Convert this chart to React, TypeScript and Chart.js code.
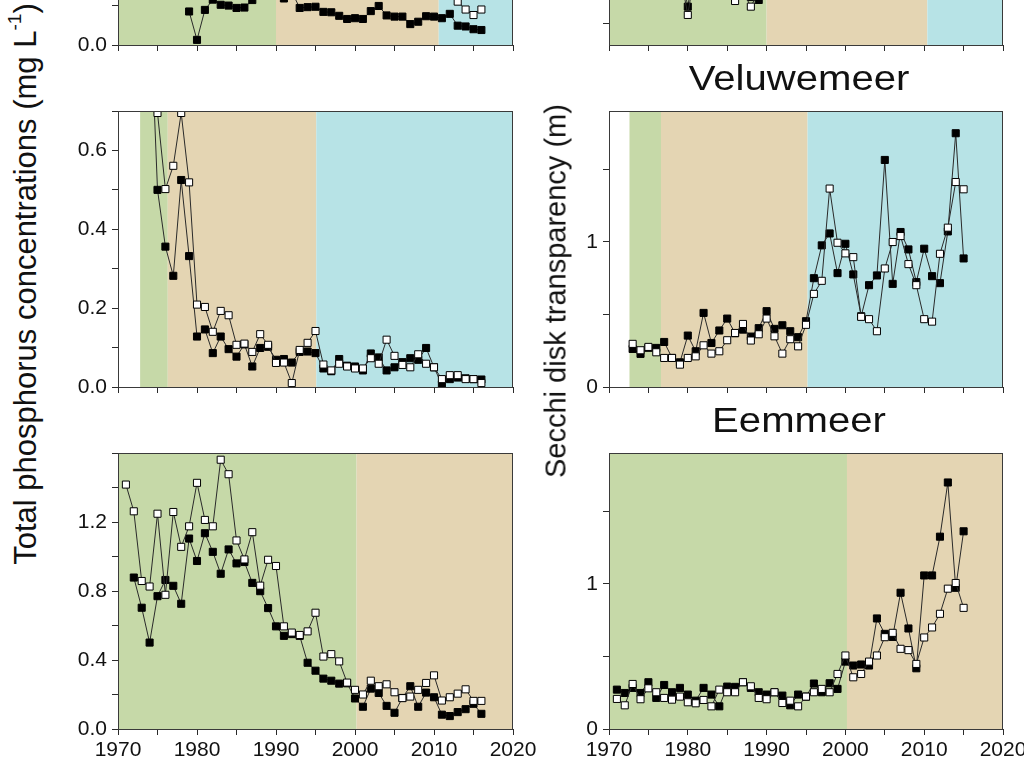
import React, { useEffect, useRef } from 'react';
import { Chart, registerables } from 'chart.js';

Chart.register(...registerables);

const FONT = '"Liberation Sans", Arial, Helvetica, sans-serif';
Chart.defaults.font.family = FONT;

const PHASE_COLORS: Record<string, string> = {
  green: '#c6d9a8',
  tan: '#e4d5b3',
  cyan: '#b7e3e6',
};

// ---------------- data ----------------
// Top row (only its lower edge is visible in the figure)
const topTpYears = [1979, 1980, 1981, 1982, 1983, 1984, 1985, 1986, 1987, 1988, 1989, 1990, 1991, 1992, 1993, 1994, 1995, 1996, 1997, 1998, 1999, 2000, 2001, 2002, 2003, 2004, 2005, 2006, 2007, 2008, 2009, 2010, 2011, 2012, 2013, 2014, 2015, 2016];
const topTpBlack = [0.085, 0.013, 0.089, 0.115, 0.102, 0.100, 0.094, 0.095, 0.114, 0.140, 0.150, 0.140, 0.118, 0.135, 0.094, 0.096, 0.097, 0.084, 0.083, 0.074, 0.066, 0.068, 0.066, 0.086, 0.099, 0.075, 0.072, 0.072, 0.053, 0.059, 0.073, 0.072, 0.068, 0.079, 0.049, 0.047, 0.040, 0.038];
const topTpWhiteYears = [2011, 2012, 2013, 2014, 2015, 2016];
const topTpWhite = [0.150, 0.130, 0.110, 0.090, 0.076, 0.090];
const topTpBreaks = [1970, 1990, 2010.6, 2020];
const topTpPhases = ['green', 'tan', 'cyan'];

const topSdYears = [1978, 1979, 1980, 1981, 1982, 1983, 1984, 1985, 1986, 1987, 1988, 1989, 1990, 1991];
const topSdBlack = [0.95, 0.90, 0.614, 0.95, 1.00, 0.90, 0.85, 0.90, 0.80, 0.75, 0.68, 0.66, 0.80, 0.90];
const topSdWhite = [0.90, 0.85, 0.557, 0.90, 0.95, 0.85, 0.80, 0.75, 0.653, 0.72, 0.614, 0.72, 0.85, 0.90];
const topSdBreaks = [1970, 1990, 2010.4, 2020];
const topSdPhases = ['green', 'tan', 'cyan'];

// Veluwemeer
const velTpYears = [1974, 1975, 1976, 1977, 1978, 1979, 1980, 1981, 1982, 1983, 1984, 1985, 1986, 1987, 1988, 1989, 1990, 1991, 1992, 1993, 1994, 1995, 1996, 1997, 1998, 1999, 2000, 2001, 2002, 2003, 2004, 2005, 2006, 2007, 2008, 2009, 2010, 2011, 2012, 2013, 2014, 2015, 2016];
const velTpBlack = [1.00, 0.500, 0.356, 0.282, 0.525, 0.332, 0.128, 0.146, 0.086, 0.128, 0.096, 0.077, 0.108, 0.052, 0.099, 0.102, 0.069, 0.071, 0.062, 0.089, 0.090, 0.086, 0.047, 0.040, 0.071, 0.054, 0.052, 0.042, 0.085, 0.075, 0.042, 0.050, 0.063, 0.073, 0.069, 0.099, 0.050, 0.006, 0.020, 0.024, 0.022, 0.020, 0.019];
const velTpWhite = [null, 0.695, 0.502, 0.561, 0.695, 0.519, 0.209, 0.203, 0.140, 0.193, 0.182, 0.107, 0.110, 0.089, 0.134, 0.107, 0.061, 0.062, 0.010, 0.094, 0.112, 0.142, 0.057, 0.042, 0.059, 0.052, 0.047, 0.047, 0.073, 0.059, 0.120, 0.079, 0.056, 0.050, 0.083, 0.059, 0.050, 0.020, 0.030, 0.030, 0.020, 0.020, 0.010];
const velTpBreaks = [1972.8, 1976.3, 1995.1, 2020];
const velTpPhases = ['green', 'tan', 'cyan'];

const velSdYears = [1973, 1974, 1975, 1976, 1977, 1978, 1979, 1980, 1981, 1982, 1983, 1984, 1985, 1986, 1987, 1988, 1989, 1990, 1991, 1992, 1993, 1994, 1995, 1996, 1997, 1998, 1999, 2000, 2001, 2002, 2003, 2004, 2005, 2006, 2007, 2008, 2009, 2010, 2011, 2012, 2013, 2014, 2015];
const velSdBlack = [0.262, 0.228, 0.270, 0.269, 0.310, 0.200, 0.170, 0.354, 0.246, 0.510, 0.303, 0.389, 0.471, 0.370, 0.395, 0.347, 0.405, 0.522, 0.400, 0.425, 0.384, 0.343, 0.453, 0.749, 0.975, 1.057, 0.784, 0.986, 0.775, 0.487, 0.701, 0.768, 1.563, 0.710, 1.067, 0.947, 0.722, 0.952, 0.763, 0.715, 1.071, 1.747, 0.885];
const velSdWhite = [0.297, 0.253, 0.276, 0.239, 0.200, 0.200, 0.154, 0.200, 0.211, 0.287, 0.230, 0.246, 0.322, 0.372, 0.434, 0.320, 0.363, 0.471, 0.349, 0.230, 0.329, 0.280, 0.428, 0.641, 0.731, 1.366, 0.993, 0.920, 0.894, 0.483, 0.467, 0.384, 0.816, 0.998, 1.039, 0.846, 0.701, 0.467, 0.450, 0.917, 1.097, 1.411, 1.361];
const velSdBreaks = [1972.6, 1976.6, 1995.2, 2020];
const velSdPhases = ['green', 'tan', 'cyan'];

// Eemmeer
const eemTpYears = [1971, 1972, 1973, 1974, 1975, 1976, 1977, 1978, 1979, 1980, 1981, 1982, 1983, 1984, 1985, 1986, 1987, 1988, 1989, 1990, 1991, 1992, 1993, 1994, 1995, 1996, 1997, 1998, 1999, 2000, 2001, 2002, 2003, 2004, 2005, 2006, 2007, 2008, 2009, 2010, 2011, 2012, 2013, 2014, 2015, 2016];
const eemTpBlack = [null, 0.878, 0.703, 0.501, 0.770, 0.864, 0.830, 0.726, 1.104, 0.974, 1.135, 1.027, 0.900, 1.041, 0.960, 0.968, 0.847, 0.799, 0.701, 0.595, 0.540, 0.550, 0.540, 0.384, 0.338, 0.292, 0.280, 0.263, 0.265, 0.177, 0.129, 0.234, 0.209, 0.134, 0.094, 0.180, 0.248, 0.129, 0.211, 0.184, 0.083, 0.075, 0.098, 0.115, 0.146, 0.088];
const eemTpWhite = [1.417, 1.262, 0.858, 0.826, 1.248, 0.778, 1.258, 1.056, 1.175, 1.427, 1.212, 1.175, 1.561, 1.477, 1.093, 0.983, 1.141, 0.831, 0.981, 0.945, 0.595, 0.559, 0.545, 0.566, 0.674, 0.420, 0.434, 0.392, 0.269, 0.227, 0.200, 0.280, 0.248, 0.259, 0.213, 0.179, 0.188, 0.227, 0.267, 0.311, 0.165, 0.184, 0.205, 0.230, 0.163, 0.163];
const eemTpBreaks = [1970, 2000.2, 2020];
const eemTpPhases = ['green', 'tan'];

const eemSdYears = [1971, 1972, 1973, 1974, 1975, 1976, 1977, 1978, 1979, 1980, 1981, 1982, 1983, 1984, 1985, 1986, 1987, 1988, 1989, 1990, 1991, 1992, 1993, 1994, 1995, 1996, 1997, 1998, 1999, 2000, 2001, 2002, 2003, 2004, 2005, 2006, 2007, 2008, 2009, 2010, 2011, 2012, 2013, 2014, 2015];
const eemSdBlack = [0.271, 0.248, 0.283, 0.248, 0.322, 0.214, 0.303, 0.253, 0.283, 0.237, 0.195, 0.283, 0.237, 0.156, 0.292, 0.290, 0.322, 0.283, 0.253, 0.237, 0.253, 0.230, 0.163, 0.237, 0.223, 0.313, 0.253, 0.315, 0.276, 0.464, 0.437, 0.444, 0.437, 0.761, 0.655, 0.634, 0.938, 0.692, 0.418, 1.057, 1.057, 1.324, 1.697, 0.972, 1.361];
const eemSdWhite = [0.207, 0.163, 0.310, 0.205, 0.280, 0.253, 0.214, 0.202, 0.223, 0.184, 0.177, 0.200, 0.156, 0.271, 0.253, 0.253, 0.322, 0.294, 0.214, 0.205, 0.253, 0.179, 0.195, 0.156, 0.223, 0.253, 0.276, 0.253, 0.379, 0.506, 0.356, 0.379, 0.464, 0.506, 0.632, 0.662, 0.552, 0.543, 0.448, 0.630, 0.699, 0.793, 0.966, 1.005, 0.834];
const eemSdBreaks = [1970, 2000.2, 2020];
const eemSdPhases = ['green', 'tan'];

// ---------------- layout ----------------
const LEFT_X = 118;
const RIGHT_X = 609;
const LEFT_W = 395;
const RIGHT_W = 394;
const ROW_TOPS = [-231, 111, 453];
const PLOT_H = 276;
const AXIS_W = 70;
const PAD_T = 30;
const PAD_R = 32;

const tpLabel = (step: number) => (v: number) => {
  const k = Math.round(v * 10);
  return k % step === 0 && k < 16 ? v.toFixed(1) : '';
};
const sdLabel = (v: number) => (Math.abs(v - Math.round(v)) < 1e-6 ? String(Math.round(v)) : '');

type PanelCfg = {
  left: number;
  top: number;
  width: number;
  bottomRow: boolean;
  yMin: number;
  yMax: number;
  yStep: number;
  yLabel: (v: number) => string;
  blackYears: number[];
  black: (number | null)[];
  whiteYears: number[];
  white: (number | null)[];
  breaks: number[];
  phases: string[];
};

const panels: PanelCfg[] = [
  { left: LEFT_X, top: ROW_TOPS[0], width: LEFT_W, bottomRow: false, yMin: 0, yMax: 0.7, yStep: 0.1, yLabel: tpLabel(2), blackYears: topTpYears, black: topTpBlack, whiteYears: topTpWhiteYears, white: topTpWhite, breaks: topTpBreaks, phases: topTpPhases },
  { left: RIGHT_X, top: ROW_TOPS[0], width: RIGHT_W, bottomRow: false, yMin: 0.35, yMax: 2.25, yStep: 0.5, yLabel: sdLabel, blackYears: topSdYears, black: topSdBlack, whiteYears: topSdYears, white: topSdWhite, breaks: topSdBreaks, phases: topSdPhases },
  { left: LEFT_X, top: ROW_TOPS[1], width: LEFT_W, bottomRow: false, yMin: 0, yMax: 0.7, yStep: 0.1, yLabel: tpLabel(2), blackYears: velTpYears, black: velTpBlack, whiteYears: velTpYears, white: velTpWhite, breaks: velTpBreaks, phases: velTpPhases },
  { left: RIGHT_X, top: ROW_TOPS[1], width: RIGHT_W, bottomRow: false, yMin: 0, yMax: 1.9, yStep: 0.5, yLabel: sdLabel, blackYears: velSdYears, black: velSdBlack, whiteYears: velSdYears, white: velSdWhite, breaks: velSdBreaks, phases: velSdPhases },
  { left: LEFT_X, top: ROW_TOPS[2], width: LEFT_W, bottomRow: true, yMin: 0, yMax: 1.6, yStep: 0.2, yLabel: tpLabel(4), blackYears: eemTpYears, black: eemTpBlack, whiteYears: eemTpYears, white: eemTpWhite, breaks: eemTpBreaks, phases: eemTpPhases },
  { left: RIGHT_X, top: ROW_TOPS[2], width: RIGHT_W, bottomRow: true, yMin: 0, yMax: 1.9, yStep: 0.5, yLabel: sdLabel, blackYears: eemSdYears, black: eemSdBlack, whiteYears: eemSdYears, white: eemSdWhite, breaks: eemSdBreaks, phases: eemSdPhases },
];

const bandsPlugin = {
  id: 'bands',
  beforeDatasetsDraw(chart: any, _args: any, opts: any) {
    const { ctx, chartArea } = chart;
    const x = chart.scales.x;
    const { top, bottom, left, right } = chartArea;
    ctx.save();
    const br: number[] = opts.breaks || [];
    const ph: string[] = opts.phases || [];
    for (let i = 0; i < ph.length; i++) {
      const x0 = Math.max(left, x.getPixelForValue(br[i]));
      const x1 = Math.min(right, x.getPixelForValue(br[i + 1]));
      ctx.fillStyle = PHASE_COLORS[ph[i]];
      ctx.fillRect(x0, top, x1 - x0, bottom - top);
    }
    ctx.restore();
  },
  afterDatasetsDraw(chart: any) {
    const { ctx, chartArea } = chart;
    const { top, bottom, left, right } = chartArea;
    ctx.save();
    ctx.strokeStyle = '#3a3a3a';
    ctx.lineWidth = 1;
    ctx.strokeRect(Math.round(left) + 0.5, Math.round(top) + 0.5, Math.round(right) - Math.round(left) - 1, Math.round(bottom) - Math.round(top));
    ctx.restore();
  },
};

function toPoints(years: number[], vals: (number | null)[]) {
  return years.map((yr, i) => ({ x: yr, y: vals[i] }));
}

function Panel({ cfg }: { cfg: PanelCfg }) {
  const ref = useRef<HTMLCanvasElement | null>(null);
  const xh = cfg.bottomRow ? 45 : 24;
  const cw = AXIS_W + cfg.width + PAD_R;
  const chH = PAD_T + PLOT_H + xh;
  useEffect(() => {
    if (!ref.current) return;
    const common = {
      borderColor: '#2a2a2a',
      borderWidth: 1,
      pointStyle: 'rect',
      pointRadius: 5,
      pointBorderColor: '#000',
      pointBorderWidth: 1,
      fill: false,
      tension: 0,
      spanGaps: false,
    };
    const chart = new Chart(ref.current, {
      type: 'line',
      data: {
        datasets: [
          { ...common, data: toPoints(cfg.whiteYears, cfg.white), pointBackgroundColor: '#ffffff' } as any,
          { ...common, data: toPoints(cfg.blackYears, cfg.black), pointBackgroundColor: '#000000' } as any,
        ],
      },
      options: {
        animation: false,
        responsive: false,
        events: [],
        layout: { padding: { top: PAD_T, right: PAD_R, left: 0, bottom: 0 } },
        plugins: {
          legend: { display: false },
          tooltip: { enabled: false },
          title: { display: false },
          bands: { breaks: cfg.breaks, phases: cfg.phases },
        } as any,
        scales: {
          x: {
            type: 'linear',
            min: 1970,
            max: 2020,
            afterFit: (s: any) => { s.height = xh; },
            grid: { display: true, drawOnChartArea: false, drawTicks: true, tickLength: 6, tickColor: '#2a2a2a', tickWidth: 1 },
            border: { display: false },
            ticks: {
              stepSize: 5,
              autoSkip: false,
              maxRotation: 0,
              minRotation: 0,
              padding: 3,
              color: '#111',
              font: { size: 21, family: FONT },
              callback: (v: any) => (cfg.bottomRow && Number(v) % 10 === 0 ? String(v) : ''),
            },
          },
          y: {
            type: 'linear',
            min: cfg.yMin,
            max: cfg.yMax,
            afterFit: (s: any) => { s.width = AXIS_W; },
            grid: { display: true, drawOnChartArea: false, drawTicks: true, tickLength: 6, tickColor: '#2a2a2a', tickWidth: 1 },
            border: { display: false },
            ticks: {
              stepSize: cfg.yStep,
              includeBounds: false,
              autoSkip: false,
              padding: 5,
              color: '#111',
              font: { size: 21, family: FONT },
              callback: (v: any) => cfg.yLabel(Number(v)),
            },
          },
        } as any,
      },
      plugins: [bandsPlugin],
    });
    return () => chart.destroy();
  }, []);
  return (
    <canvas
      ref={ref}
      width={cw}
      height={chH}
      style={{ position: 'absolute', left: cfg.left - AXIS_W, top: cfg.top - PAD_T, width: cw, height: chH }}
    />
  );
}

export default function App() {
  return (
    <div
      style={{
        position: 'fixed',
        left: 0,
        top: 0,
        width: 1024,
        height: 763,
        overflow: 'hidden',
        background: '#ffffff',
        fontFamily: FONT,
        color: '#111',
      }}
    >
      {panels.map((p, i) => (
        <Panel key={i} cfg={p} />
      ))}
      <div
        style={{
          position: 'absolute',
          left: 25,
          top: 284,
          transform: 'translate(-50%, -50%) rotate(-90deg)',
          whiteSpace: 'nowrap',
          fontSize: 31,
          lineHeight: '31px',
          zIndex: 5,
        }}
      >
        Total phosphorus concentrations (mg L
        <sup style={{ fontSize: '0.62em', lineHeight: 0, verticalAlign: '0.75em' }}>-1</sup>)
      </div>
      <div
        style={{
          position: 'absolute',
          left: 556,
          top: 291,
          transform: 'translate(-50%, -50%) rotate(-90deg)',
          whiteSpace: 'nowrap',
          fontSize: 29,
          lineHeight: '29px',
          zIndex: 5,
        }}
      >
        Secchi disk transparency (m)
      </div>
      <div
        style={{
          position: 'absolute',
          left: 799,
          top: 59.7,
          transform: 'translateX(-50%) scaleX(1.146)',
          whiteSpace: 'nowrap',
          fontSize: 35,
          lineHeight: '35px',
          zIndex: 5,
        }}
      >
        Veluwemeer
      </div>
      <div
        style={{
          position: 'absolute',
          left: 799,
          top: 402,
          transform: 'translateX(-50%) scaleX(1.146)',
          whiteSpace: 'nowrap',
          fontSize: 35,
          lineHeight: '35px',
          zIndex: 5,
        }}
      >
        Eemmeer
      </div>
    </div>
  );
}
